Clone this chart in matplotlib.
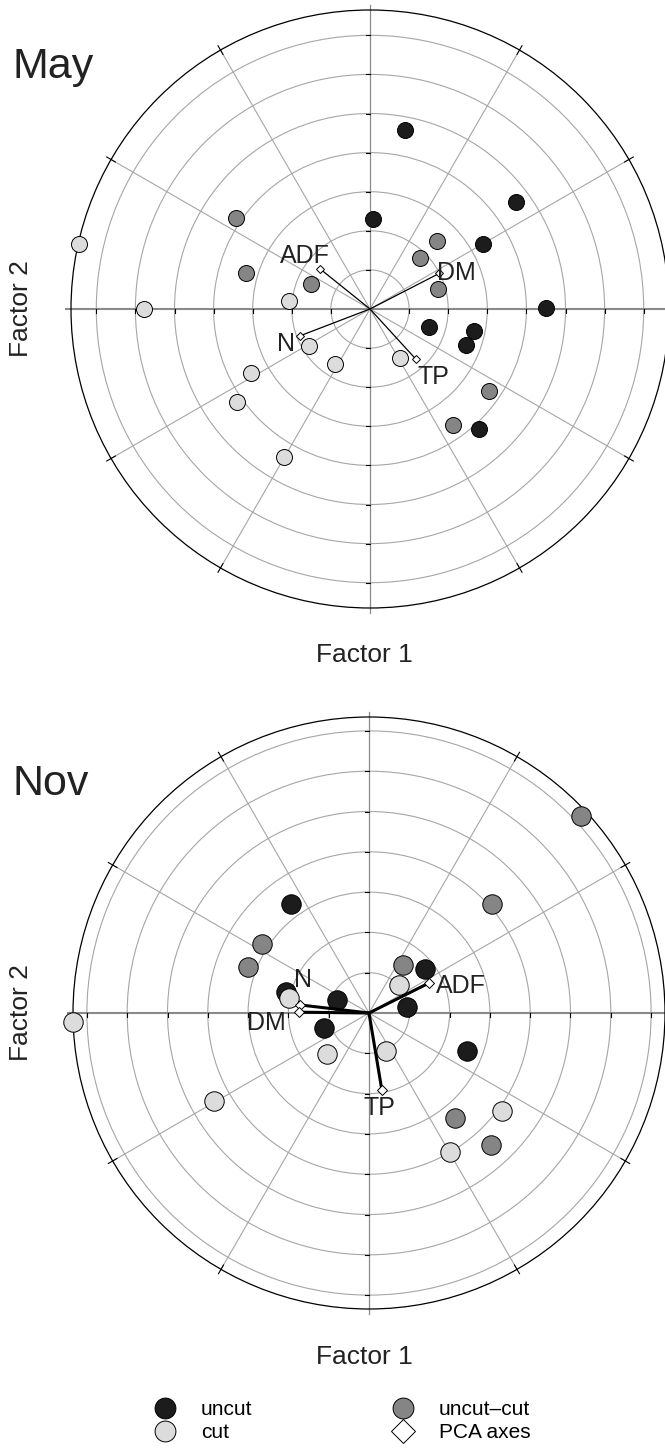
import numpy as np
import matplotlib
matplotlib.use("Agg")
import matplotlib.pyplot as plt
from matplotlib.patches import Circle
from matplotlib.lines import Line2D

plt.rcParams['font.family'] = ['Liberation Sans', 'DejaVu Sans']

# ---- data (factor scores, in grid-circle units) ----
may_uncut_x = [0.90, 3.73, 0.07, 2.89, 4.49, 1.50, 2.66, 2.45, 2.80]
may_uncut_y = [4.57, 2.74, 2.31, 1.66, 0.02, -0.47, -0.57, -0.91, -3.07]
may_mixed_x = [-3.43, 1.72, 1.28, -3.17, -1.50, 1.74, 3.04, 2.13]
may_mixed_y = [2.34, 1.75, 1.30, 0.91, 0.65, 0.52, -2.10, -2.97]
may_cut_x = [-7.45, -5.78, -2.08, -1.55, -0.90, -3.05, -3.39, -2.21, 0.77]
may_cut_y = [1.65, 0.00, 0.20, -0.95, -1.40, -1.63, -2.37, -3.79, -1.26]
may_pca_names = ['ADF', 'DM', 'N', 'TP']
may_pca_x = [-1.27, 1.77, -1.80, 1.17]
may_pca_y = [1.02, 0.91, -0.69, -1.28]

nov_uncut_x = [-1.94, 1.40, -2.05, -0.79, 0.95, -1.11, 2.43]
nov_uncut_y = [2.71, 1.08, 0.52, 0.33, 0.15, -0.37, -0.95]
nov_mixed_x = [5.27, 3.06, -2.65, -3.00, 0.85, 2.14, 3.03]
nov_mixed_y = [4.90, 2.70, 1.72, 1.13, 1.18, -2.61, -3.28]
nov_cut_x = [-7.34, 0.75, -1.99, 0.43, -1.04, -3.84, 3.29, 2.00]
nov_cut_y = [-0.22, 0.69, 0.37, -0.95, -1.01, -2.19, -2.43, -3.45]
nov_pca_names = ['ADF', 'N', 'DM', 'TP']
nov_pca_x = [1.48, -1.71, -1.74, 0.32]
nov_pca_y = [0.74, 0.20, 0.02, -1.92]

C_UNCUT = '#1c1c1c'
C_MIXED = '#858585'
C_CUT = '#dcdcdc'
GRID = '#a6a6a6'
AXC = '#8a8a8a'

W, H, DPI = 665, 1455, 100
fig = plt.figure(figsize=(W / DPI, H / DPI), dpi=DPI)
PX = 72.0 / DPI  # points per pixel


def make_ax(cx, cy, ppu, half=330):
    ax = fig.add_axes([(cx - half) / W, (H - cy - half) / H, 2 * half / W, 2 * half / H])
    ax.set_xlim(-half / ppu, half / ppu)
    ax.set_ylim(-half / ppu, half / ppu)
    ax.axis('off')
    return ax


def grid(ax, ppu, outer_px):
    R = outer_px / ppu
    for k in range(1, 8):
        ax.add_patch(Circle((0, 0), k, fill=False, ec=GRID, lw=0.8, zorder=1))
    ax.add_patch(Circle((0, 0), R, fill=False, ec='black', lw=0.9, zorder=2))
    t = 5.0 / ppu
    for a in range(0, 360, 30):
        if a % 90 == 0:
            continue
        th = np.deg2rad(a)
        ax.plot([0, R * np.cos(th)], [0, R * np.sin(th)], color=GRID, lw=0.8, zorder=1)
        ax.plot([(R - t) * np.cos(th), (R + t) * np.cos(th)],
                [(R - t) * np.sin(th), (R + t) * np.sin(th)], color='black', lw=0.8, zorder=2)
    ax.plot([-R - t, R + t], [0, 0], color=AXC, lw=1.5, zorder=1.5)
    ax.plot([0, 0], [-R - t, R + t], color=AXC, lw=0.9, zorder=1.5)
    tl = 4.0 / ppu
    for k in range(1, 8):
        for s in (-1, 1):
            ax.plot([s * k, s * k], [0, -tl], color='black', lw=0.8, zorder=2)
            ax.plot([0, -tl], [s * k, s * k], color='black', lw=0.8, zorder=2)


def points(ax, xs, ys, color, ms):
    ax.plot(xs, ys, ls='none', marker='o', ms=ms, mfc=color, mec='black', mew=0.7, zorder=4)


def pca(ax, names, xs, ys, offsets, lw, ms):
    for n, x, y, (dx, dy) in zip(names, xs, ys, offsets):
        ax.plot([0, x], [0, y], color='black', lw=lw, zorder=5, solid_capstyle='butt')
        ax.plot([x], [y], ls='none', marker='D', ms=ms, mfc='white', mec='black', mew=0.7, zorder=6)
        ax.annotate(n, (x, y), xytext=(dx * PX, dy * PX), textcoords='offset points',
                    ha='center', va='center', fontsize=18, color='#222222', zorder=7)


# ---- May panel ----
ppu1 = 39.1
ax1 = make_ax(370, 309, ppu1)
grid(ax1, ppu1, 299)
points(ax1, may_uncut_x, may_uncut_y, C_UNCUT, 11.5)
points(ax1, may_mixed_x, may_mixed_y, C_MIXED, 11.5)
points(ax1, may_cut_x, may_cut_y, C_CUT, 11.5)
pca(ax1, may_pca_names, may_pca_x, may_pca_y,
    [(-15, 13), (17, 0), (-14, -8), (18, -18)], 0.9, 4.5)

# ---- Nov panel ----
ppu2 = 40.3
ax2 = make_ax(369, 1013, ppu2)
grid(ax2, ppu2, 296)
points(ax2, nov_uncut_x, nov_uncut_y, C_UNCUT, 14)
points(ax2, nov_mixed_x, nov_mixed_y, C_MIXED, 14)
points(ax2, nov_cut_x, nov_cut_y, C_CUT, 14)
pca(ax2, nov_pca_names, nov_pca_x, nov_pca_y,
    [(32, -3), (3, 25), (-33, -11), (-2, -18)], 2.2, 5.5)

# ---- titles and axis labels ----
for title, yb in (('May', 78), ('Nov', 795)):
    fig.text(12 / W, 1 - yb / H, title, fontsize=31, ha='left', va='baseline', color='#222222')
for yc in (309, 1013):
    fig.text(21 / W, 1 - yc / H, 'Factor 2', fontsize=19, rotation=90,
             ha='center', va='center', color='#222222')
for yc in (655, 1357):
    fig.text(364 / W, 1 - yc / H, 'Factor 1', fontsize=19, ha='center', va='center', color='#222222')

# ---- legend ----
handles = [
    Line2D([], [], ls='none', marker='o', ms=15, mfc=C_UNCUT, mec='black', mew=0.7, label='uncut'),
    Line2D([], [], ls='none', marker='o', ms=15, mfc=C_CUT, mec='black', mew=0.7, label='cut'),
    Line2D([], [], ls='none', marker='o', ms=15, mfc=C_MIXED, mec='black', mew=0.7, label='uncut\u2013cut'),
    Line2D([], [], ls='none', marker='D', ms=12, mfc='white', mec='black', mew=0.7, label='PCA axes'),
]
fig.legend(handles=handles, ncol=2, frameon=False, fontsize=15, loc='upper left',
           bbox_to_anchor=(155 / W, 1 - 1400 / H), borderpad=0, borderaxespad=0,
           handlelength=1.0, handletextpad=1.2, columnspacing=6.75, labelspacing=0.2)

fig.savefig('out.png', dpi=DPI)
